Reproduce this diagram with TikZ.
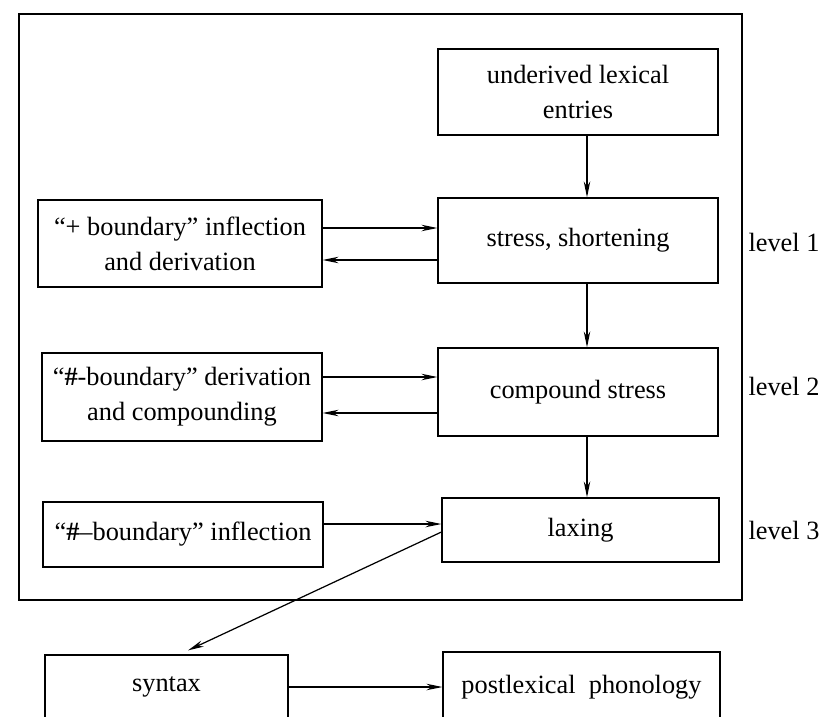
\documentclass[tikz,border=0pt]{standalone}
\usepackage{fontspec}
\setmainfont{Liberation Serif}
\usetikzlibrary{arrows.meta}

\begin{document}
\begin{tikzpicture}[x=0.02cm, y=-0.02cm,
    box/.style={draw, line width=0.7pt, align=center, inner sep=0pt,
        font=\fontsize{15}{20}\selectfont},
    arr/.style={-{Stealth[length=3.2mm, width=1.3mm]}, line width=0.7pt},
    lvl/.style={font=\fontsize{15}{20}\selectfont}]
    \useasboundingbox (0,0) rectangle (827,716);

    % outer frame of the lexicon
    \draw[line width=0.7pt] (19,14) rectangle (742,600);

    \node[box, minimum width=5.6cm, minimum height=1.72cm]  at (578,92)    (Lex)    {underived lexical\\entries};
    \node[box, minimum width=5.6cm, minimum height=1.7cm]   at (578,240.5) (Stress) {stress, shortening};
    \node[box, minimum width=5.6cm, minimum height=1.76cm]  at (578,392)   (Comp)   {compound stress};
    \node[box, minimum width=5.54cm, minimum height=1.28cm] at (580.5,530) (Lax)    {laxing};

    \node[box, minimum width=5.68cm, minimum height=1.74cm] at (180,243.5) (PlusB)  {``+ boundary'' inflection\\and derivation};
    \node[box, minimum width=5.6cm, minimum height=1.76cm]  at (182,397)   (HashB)  {``\textbf{\#}-boundary'' derivation\\and compounding};
    \node[box, minimum width=5.6cm, minimum height=1.3cm]   at (183,534.5) (HashI)  {``\textbf{\#}--boundary'' inflection};

    \node[box, minimum width=4.86cm, minimum height=1.28cm] at (166.5,687) (Syn)    {syntax};
    \node[box, minimum width=5.54cm, minimum height=1.4cm]  at (581.5,687) (Post)   {postlexical\ \ phonology};

    \node[lvl] at (784,242) (L1) {level 1};
    \node[lvl] at (784,386) (L2) {level 2};
    \node[lvl] at (784,530) (L3) {level 3};

    \draw[arr] ([xshift=0.18cm]Lex.south) -- ([xshift=0.18cm]Stress.north);
    \draw[arr] ([xshift=0.18cm]Stress.south) -- ([xshift=0.18cm]Comp.north);
    \draw[arr] ([xshift=0.18cm]Comp.south) -- ([xshift=0.18cm]Comp.south |- Lax.north);

    \draw[arr] ([yshift=0.31cm]PlusB.east) -- ([yshift=0.31cm]PlusB.east -| Stress.west);
    \draw[arr] ([yshift=-0.33cm]PlusB.east -| Stress.west) -- ([yshift=-0.33cm]PlusB.east);
    \draw[arr] ([yshift=0.4cm]HashB.east) -- ([yshift=0.4cm]HashB.east -| Comp.west);
    \draw[arr] ([yshift=-0.32cm]HashB.east -| Comp.west) -- ([yshift=-0.32cm]HashB.east);
    \draw[arr] ([yshift=0.21cm]HashI.east) -- ([yshift=0.21cm]HashI.east -| Lax.west);

    \draw[arr] ([yshift=-0.04cm]Lax.west) -- ([xshift=0.43cm, yshift=0.08cm]Syn.north);
    \draw[arr] (Syn) -- (Post);
\end{tikzpicture}
\end{document}
